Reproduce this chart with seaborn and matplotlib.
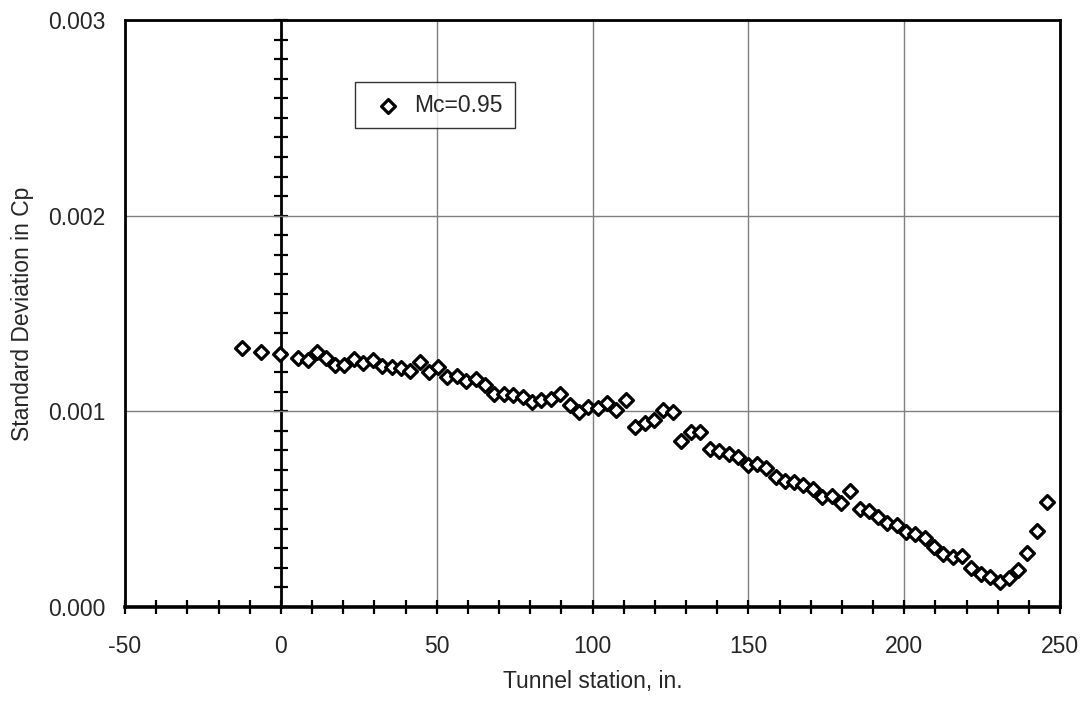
import matplotlib
matplotlib.use("Agg")
import matplotlib.pyplot as plt
from matplotlib.ticker import MultipleLocator, FormatStrFormatter
import seaborn as sns
import pandas as pd

station = [-12.6, -6.4, -0.3, 5.4, 8.7, 11.5, 14.5, 17.4, 20.4, 23.5,
           26.5, 29.6, 32.6, 35.6, 38.6, 41.6, 44.6, 47.5, 50.4, 53.4,
           56.5, 59.5, 62.5, 65.4, 68.4, 71.5, 74.6, 77.6, 80.5, 83.6,
           86.8, 89.7, 92.7, 95.7, 98.7, 101.8, 104.7, 107.7, 110.8, 113.5,
           116.7, 119.7, 122.7, 125.9, 128.5, 131.6, 134.6, 137.6, 140.7, 143.8,
           146.8, 149.8, 152.8, 155.8, 158.8, 161.8, 164.7, 167.7, 170.7, 173.7,
           176.8, 179.7, 182.7, 185.7, 188.7, 191.7, 194.6, 197.6, 200.6, 203.6,
           206.6, 209.6, 212.6, 215.6, 218.6, 221.6, 224.6, 227.6, 230.6, 233.7,
           236.6, 239.5, 242.6, 245.7]
std_cp = [0.0013215, 0.001304, 0.001294, 0.001273, 0.001263, 0.001304, 0.001272, 0.001239, 0.001236, 0.001265,
          0.001246, 0.001263, 0.001232, 0.001226, 0.001224, 0.001207, 0.001253, 0.001202, 0.001227, 0.001178,
          0.001181, 0.001155, 0.001166, 0.001133, 0.001087, 0.001087, 0.001082, 0.001073, 0.001048, 0.001060,
          0.001065, 0.001091, 0.001032, 0.000996, 0.001022, 0.001017, 0.001045, 0.001005, 0.001056, 0.000919,
          0.000940, 0.000957, 0.001005, 0.000996, 0.000846, 0.000894, 0.000894, 0.000809, 0.000796, 0.000783,
          0.000768, 0.000728, 0.000733, 0.000711, 0.000665, 0.000646, 0.000641, 0.000624, 0.000604, 0.000561,
          0.000568, 0.000532, 0.000591, 0.000503, 0.000492, 0.000458, 0.000429, 0.000420, 0.000383, 0.000374,
          0.000355, 0.000309, 0.000270, 0.000258, 0.000262, 0.000198, 0.000169, 0.000152, 0.000130, 0.000150,
          0.000190, 0.000275, 0.000386, 0.000538]
series_label = "Mc=0.95"
x_label = "Tunnel station, in."
y_label = "Standard Deviation in Cp"

sns.set_style("white")
plt.rcParams["font.family"] = ["Liberation Sans", "DejaVu Sans"]
plt.rcParams["axes.unicode_minus"] = False

FS = 16.5

fig = plt.figure(figsize=(10.88, 7.03), dpi=100)
ax = fig.add_axes([125 / 1088, 1 - 607 / 703, 935 / 1088, 587 / 703])
ax2 = ax.twinx()

df = pd.DataFrame({"station": station, "std": std_cp})

ax.set_xlim(-50, 250)
ax.set_ylim(0, 0.003)
ax2.set_ylim(0, 0.003)

# secondary axis crossing at x = 0
for s in ["right", "top", "bottom"]:
    ax2.spines[s].set_visible(False)
ax2.spines["left"].set_visible(True)
ax2.spines["left"].set_position(("data", 0))
ax2.spines["left"].set_linewidth(2.0)
ax2.spines["left"].set_color("black")
ax2.yaxis.set_ticks_position("left")
ax2.yaxis.set_major_locator(MultipleLocator(0.0001))
ax2.tick_params(axis="y", which="both", direction="inout", length=10, width=1.6,
                color="black", labelleft=False, labelright=False)

ax.set_zorder(ax2.get_zorder() + 1)
ax.patch.set_visible(False)

sns.scatterplot(data=df, x="station", y="std", ax=ax, marker="D", s=50,
                facecolor="white", edgecolor="black", linewidth=2.3,
                label=series_label, zorder=5)

ax.set_xticks(range(-50, 251, 50))
ax.xaxis.set_minor_locator(MultipleLocator(10))
ax.yaxis.set_major_locator(MultipleLocator(0.001))
ax.yaxis.set_major_formatter(FormatStrFormatter("%.3f"))

ax.grid(True, which="major", color="#7f7f7f", linewidth=1.0)
for t in ax.xaxis.get_major_ticks():
    if abs(t.get_loc()) < 1e-9:
        t.gridline.set_visible(False)

for s in ["left", "top", "right"]:
    ax.spines[s].set_linewidth(2.0)
    ax.spines[s].set_color("black")
ax.spines["bottom"].set_linewidth(2.6)
ax.spines["bottom"].set_color("black")

ax.tick_params(axis="x", which="both", direction="inout", length=10, width=1.6,
               color="black", bottom=True, labelsize=FS, pad=15)
ax.tick_params(axis="y", which="both", length=0, labelsize=FS, pad=14, left=False)

ax.set_xlabel(x_label, fontsize=FS, labelpad=9)
ax.set_ylabel(y_label, fontsize=FS, labelpad=10)

leg = ax.legend(loc="upper left", bbox_to_anchor=(0.246, 0.894), frameon=True,
                fancybox=False, edgecolor="black", fontsize=FS, handletextpad=0.2,
                borderpad=0.5, borderaxespad=0.0, handlelength=1.9, markerscale=1.0)
leg.get_frame().set_linewidth(1.0)
leg.set_zorder(10)

fig.savefig("out.png", dpi=100, facecolor="white")
